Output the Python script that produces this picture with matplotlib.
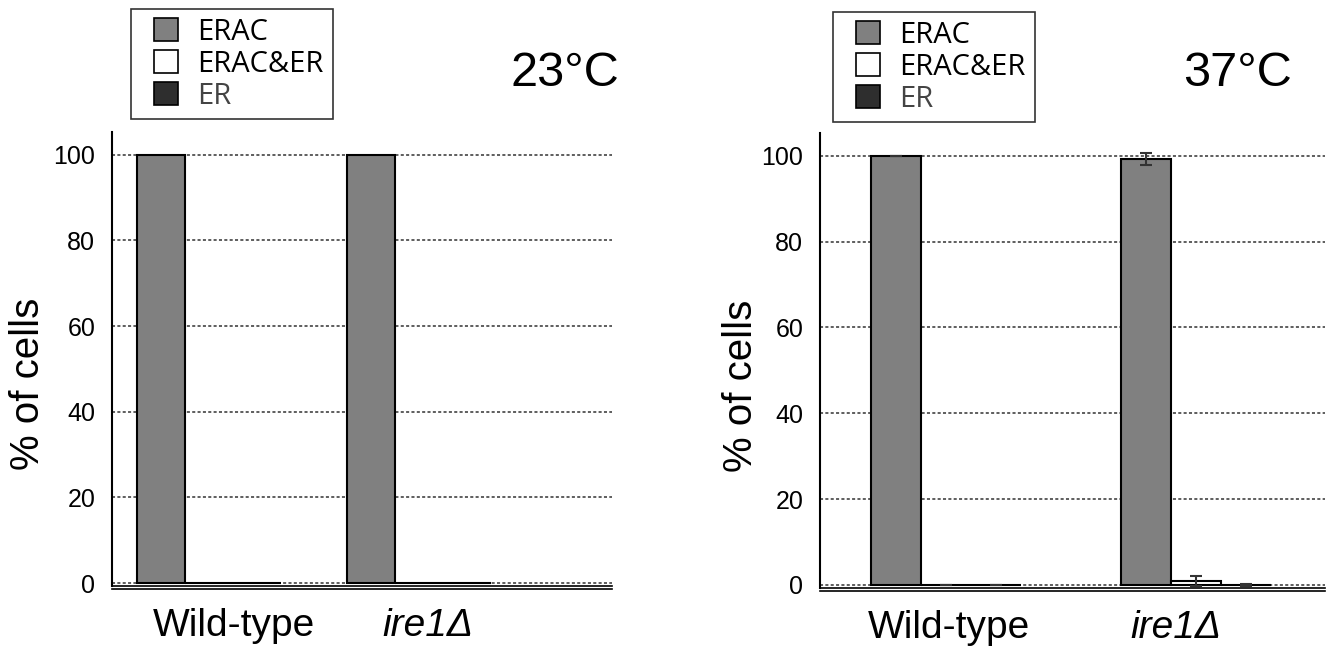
import matplotlib
matplotlib.use('Agg')
import matplotlib.pyplot as plt
from matplotlib.patches import Patch, Rectangle
from matplotlib.legend_handler import HandlerPatch
import matplotlib.transforms as mtransforms

plt.rcParams['font.family'] = ['Liberation Sans', 'DejaVu Sans']

groups = ['Wild-type', 'ire1Δ']
series = ['ERAC', 'ERAC&ER', 'ER']
colors = ['#808080', '#ffffff', '#2e2e2e']

# 23 C
erac_23 = [100, 100]
both_23 = [0, 0]
er_23 = [0, 0]

# 37 C
erac_37 = [100, 99.2]
both_37 = [0, 0.9]
er_37 = [0, 0]
erac_37_err = [0, 1.4]
both_37_err = [0, 1.2]
er_37_err = [0, 0.3]

yticks = [0, 20, 40, 60, 80, 100]

fig = plt.figure(figsize=(13.27, 6.46), dpi=100)


def square_patch(legend, orig_handle, xdescent, ydescent, width, height, fontsize):
    # square sitting at the right end of the handle box
    return Rectangle((-xdescent + width - height, -ydescent), height, height)


def panel(rect, vals, errs, w, xlim, label_x, ylab_x, title, title_xy, leg_anchor):
    ax = fig.add_axes(rect)
    for i in range(3):
        xs = [g + (i - 1) * w for g in range(len(groups))]
        ax.bar(xs, vals[i], width=w, color=colors[i], edgecolor='black',
               linewidth=1.5, zorder=3)
        if errs is not None:
            ax.errorbar(xs, vals[i], yerr=errs[i], fmt='none', ecolor='#333333',
                        elinewidth=1.5, capsize=4, capthick=1.5, zorder=4)
    ax.set_xlim(*xlim)
    ax.set_ylim(-0.7, 105.3)
    ax.set_yticks(yticks)
    ax.set_yticklabels([str(t) for t in yticks], fontsize=18)
    ax.yaxis.grid(True, linestyle=(0, (2, 1.5)), color='#333333', linewidth=1.1, zorder=1)
    ax.tick_params(axis='both', length=0)
    ax.tick_params(axis='y', pad=12)
    ax.tick_params(axis='x', pad=16)
    ax.set_xticks(label_x)
    ax.set_xticklabels(groups, fontsize=28)
    ax.get_xticklabels()[1].set_style('italic')
    for s in ['top', 'right']:
        ax.spines[s].set_visible(False)
    ax.spines['left'].set_linewidth(1.5)
    ax.spines['bottom'].set_linewidth(1.2)
    # second bottom rule below the axis
    tr = mtransforms.offset_copy(ax.transAxes, fig=fig, x=0, y=-3, units='dots')
    ax.plot([0, 1], [0, 0], transform=tr, color='black', lw=1.2, clip_on=False)
    ax.set_ylabel('% of cells', fontsize=29)
    ax.yaxis.set_label_coords(ylab_x, 0.445)
    fig.text(title_xy[0], title_xy[1], title, fontsize=35, ha='center', va='center')
    handles = [Patch(facecolor=c, edgecolor='black', linewidth=1.2) for c in colors]
    leg = fig.legend(handles, series, loc='upper left', bbox_to_anchor=leg_anchor,
                     bbox_transform=fig.transFigure, borderaxespad=0,
                     prop={'family': 'Open Sans', 'size': 21}, frameon=True,
                     fancybox=False, edgecolor='black', handlelength=1.3,
                     handleheight=0.85, handletextpad=0.68, labelspacing=0.1,
                     borderpad=0.3,
                     handler_map={Patch: HandlerPatch(patch_func=square_patch)})
    leg.get_frame().set_linewidth(1.2)
    leg.get_texts()[2].set_color('#444444')
    return ax


panel([112 / 1327, 60 / 646, 500 / 1327, 454 / 646],
      [erac_23, both_23, er_23], None, 0.229, (-0.462, 1.919), [0.12, 1.04], -0.13,
      '23°C', (565 / 1327, 1 - 74 / 646), (131 / 1327, 1 - 9 / 646))

panel([820 / 1327, 58 / 646, 505 / 1327, 455 / 646],
      [erac_37, both_37, er_37], [erac_37_err, both_37_err, er_37_err],
      0.2, (-0.504, 1.516), [0.01, 0.92], -0.119,
      '37°C', (1237 / 1327, 1 - 74 / 646), (833 / 1327, 1 - 12 / 646))

fig.savefig('out.png', dpi=100)
